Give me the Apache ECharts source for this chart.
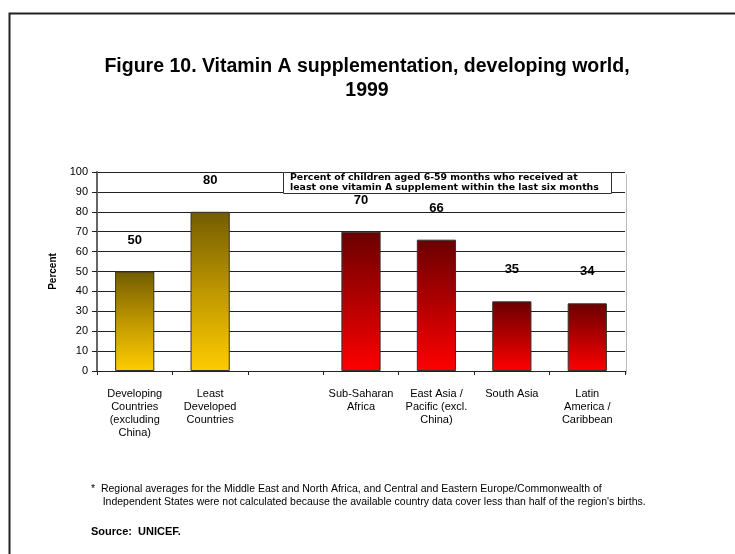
<!DOCTYPE html>
<html>
<head>
<meta charset="utf-8">
<script src="https://cdn.jsdelivr.net/npm/echarts@6/dist/echarts.min.js"></script>
<style>
  html, body { margin: 0; padding: 0; background: #fff; }
  #chart { width: 735px; height: 554px; }
</style>
</head>
<body>
<div id="chart"></div>
<script>
// categories (third slot is an empty gap in the original)
var categories = [
  "Developing\nCountries\n(excluding\nChina)",
  "Least\nDeveloped\nCountries",
  "",
  "Sub-Saharan\nAfrica",
  "East Asia /\nPacific (excl.\nChina)",
  "South Asia",
  "Latin\nAmerica /\nCaribbean"
];
var values = [50, 80, null, 70, 66, 35, 34];
// which colour group each bar belongs to
var groups = ["world", "world", null, "region", "region", "region", "region"];
var yTicks = { min: 0, max: 100, interval: 10 };

var FONT = "Liberation Sans, Arial, sans-serif";

var gold = {
  type: "linear", x: 0, y: 0, x2: 0, y2: 1,
  colorStops: [{ offset: 0, color: "#735c00" }, { offset: 0.5, color: "#bf9700" }, { offset: 1, color: "#ffcc00" }]
};
var red = {
  type: "linear", x: 0, y: 0, x2: 0, y2: 1,
  colorStops: [{ offset: 0, color: "#6b0000" }, { offset: 0.5, color: "#b30000" }, { offset: 1, color: "#ff0000" }]
};

var barData = values.map(function (v, i) {
  return {
    value: v,
    itemStyle: { color: groups[i] === "world" ? gold : red }
  };
});

var myChart = echarts.init(document.getElementById("chart"));

var options = {
  animation: false,
  textStyle: { fontFamily: FONT },
  grid: { left: 97, right: 110, top: 172, bottom: 183 },
  xAxis: {
    type: "category",
    data: categories,
    axisLine: { lineStyle: { color: "#222", width: 1 } },
    axisTick: { show: true, length: 4, lineStyle: { color: "#222" } },
    axisLabel: { color: "#000", fontSize: 11, lineHeight: 13, margin: 16, interval: 0 },
    splitLine: { show: false }
  },
  yAxis: {
    type: "value",
    min: yTicks.min,
    max: yTicks.max,
    interval: yTicks.interval,
    name: "Percent",
    nameLocation: "middle",
    nameGap: 32,
    nameRotate: 90,
    nameTextStyle: { fontSize: 10, fontWeight: "bold", color: "#000" },
    axisLine: { show: true, lineStyle: { color: "#666", width: 2 } },
    axisTick: { show: true, length: 5, lineStyle: { color: "#222" } },
    axisLabel: { color: "#000", fontSize: 11, margin: 9 },
    splitLine: { show: true, lineStyle: { color: "#222", width: 1 } }
  },
  series: [
    {
      type: "bar",
      data: barData,
      barWidth: "52%",
      z: 20,
      itemStyle: { borderColor: "#333", borderWidth: 1 },
      label: {
        show: true,
        position: "top",
        distance: 25,
        fontSize: 13,
        fontWeight: "bold",
        color: "#000"
      }
    }
  ],
  graphic: [
    {
      type: "rect",
      left: 7, top: 11,
      shape: { width: 740, height: 560 },
      style: { fill: "none", stroke: "#222", lineWidth: 2 },
      silent: true
    },
    {
      type: "text",
      x: 367, y: 55,
      style: {
        text: "Figure 10. Vitamin A supplementation, developing world,\n1999",
        align: "center",
        fontSize: 19.5, fontWeight: "bold", lineHeight: 24, fill: "#000",
        fontFamily: FONT
      }
    },
    {
      type: "rect",
      left: 624, top: 172,
      shape: { width: 0, height: 199 },
      style: { fill: "none", stroke: "#bbb", lineWidth: 1 },
      silent: true
    },
    {
      type: "rect",
      left: 283, top: 172,
      shape: { width: 328, height: 21 },
      style: { fill: "#fff", stroke: "#333", lineWidth: 1 },
      z: 10
    },
    {
      type: "text",
      left: 290, top: 173,
      style: {
        text: "Percent of children aged 6-59 months who received at\nleast one vitamin A supplement within the last six months",
        fontSize: 9.4, fontWeight: "bold", lineHeight: 10, fill: "#000",
        fontFamily: "DejaVu Sans, sans-serif"
      },
      z: 11
    },
    {
      type: "text",
      left: 91, top: 483,
      style: {
        text: "*  Regional averages for the Middle East and North Africa, and Central and Eastern Europe/Commonwealth of\n    Independent States were not calculated because the available country data cover less than half of the region's births.",
        fontSize: 10.5, lineHeight: 13, fill: "#000",
        fontFamily: FONT
      }
    },
    {
      type: "text",
      left: 91, top: 526,
      style: {
        text: "Source:  UNICEF.",
        fontSize: 11, fontWeight: "bold", fill: "#000",
        fontFamily: FONT
      }
    }
  ]
};

myChart.setOption(options);
</script>
</body>
</html>
